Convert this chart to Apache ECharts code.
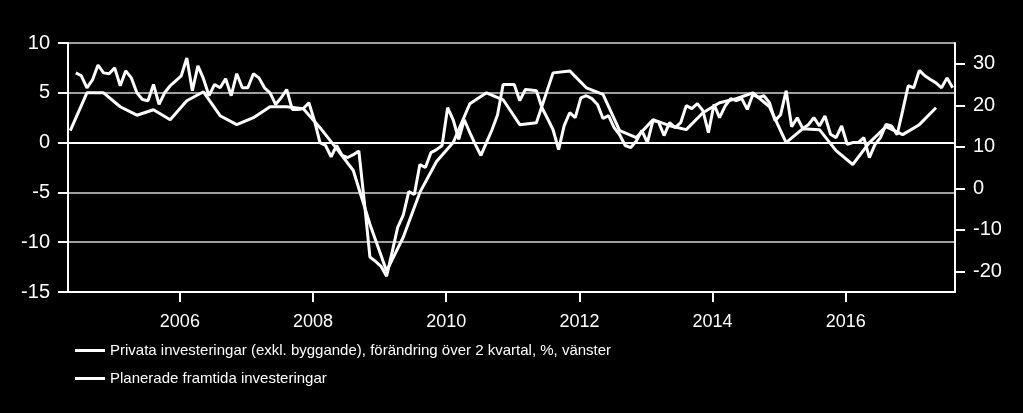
<!DOCTYPE html>
<html><head><meta charset="utf-8">
<script src="https://cdn.jsdelivr.net/npm/echarts@6/dist/echarts.min.js"></script>
<style>html,body{margin:0;padding:0;background:#000;}#c{width:1023px;height:413px;}</style>
</head><body><div id="c"></div>
<script>
const seriesNames = [
  'Privata investeringar (exkl. byggande), förändring över 2 kvartal, %, vänster',
  'Planerade framtida investeringar'
];
// quarterly, plotted at middle month of each quarter, first = May 2004 (left axis)
const privataStart = '2004-05';
const privataValues = [1.2, 5.0, 5.0, 3.6, 2.75, 3.3, 2.3, 4.2, 5.1, 2.7, 1.8, 2.5, 3.6, 3.6, 3.4, 1.5,
  -0.6, -2.8, -8.2, -12.9, -9.5, -5.0, -1.9, 0.0, 3.9, 5.0, 4.3, 1.8, 2.0, 7.0, 7.2, 5.5, 4.85,
  1.2, 0.5, 2.3, 1.7, 1.3, 3.0, 4.0, 4.4, 5.0, 3.6, 0.0, 1.4, 1.3, -0.8, -2.2, 0.0, 1.6, 0.8, 1.8, 3.5];
// monthly, first = June 2004 (right axis)
const planeradeStart = '2004-06';
const planerade2004 = [27.8, 27.1, 24.2, 26.1, 29.7, 27.8, 27.6];
const planerade2005 = [29.0, 24.7, 28.3, 26.6, 23.0, 21.4, 21.1, 25.0, 20.2, 23.0, 24.7, 25.9];
const planerade2006 = [27.1, 31.4, 23.5, 29.5, 26.4, 22.3, 25.0, 24.2, 26.4, 22.3, 27.6, 24.2];
const planerade2007 = [24.2, 27.6, 26.6, 24.2, 23.0, 20.2, 21.8, 23.8, 19.0, 19.0, 19.2, 20.6];
const planerade2008 = [16.3, 11.0, 10.3, 7.6, 10.3, 7.9, 7.4, 8.1, 9.0, -3.4, -16.6, -17.6];
const planerade2009 = [-18.8, -21.2, -15.4, -9.4, -6.5, -0.8, -1.5, 5.7, 5.0, 8.6, 9.3, 10.3];
const planerade2010 = [19.4, 16.5, 11.8, 16.5, 13.4, 10.5, 7.9, 11.0, 14.1, 17.7, 25.0, 25.0];
const planerade2011 = [25.0, 21.1, 23.8, 23.7, 23.5, 19.4, 16.8, 14.1, 9.3, 15.1, 18.2, 17.0];
const planerade2012 = [21.8, 22.3, 21.6, 20.2, 16.8, 17.5, 14.6, 12.9, 10.3, 9.8, 11.4, 13.9];
const planerade2013 = [11.0, 16.3, 16.0, 12.7, 15.8, 14.6, 15.8, 19.9, 19.2, 20.4, 18.7, 13.4];
const planerade2014 = [20.2, 17.0, 19.8, 21.6, 21.1, 21.6, 19.0, 22.6, 21.9, 22.3, 20.6, 16.3];
const planerade2015 = [17.7, 23.5, 14.8, 17.0, 14.4, 15.3, 17.0, 15.0, 17.4, 13.0, 12.2, 15.0];
const planerade2016 = [10.6, 11.0, 11.0, 12.2, 7.4, 10.5, 12.2, 15.4, 15.0, 12.9, 18.7, 24.7];
const planerade2017 = [24.2, 28.4, 27.1, 26.2, 25.4, 24.2, 26.6, 24.2];
const planeradeValues = [].concat(planerade2004, planerade2005, planerade2006, planerade2007,
  planerade2008, planerade2009, planerade2010, planerade2011, planerade2012, planerade2013,
  planerade2014, planerade2015, planerade2016, planerade2017);

const xTickYears = [2006, 2008, 2010, 2012, 2014, 2016];
const rightTicks = [-20, -10, 0, 10, 20, 30];

function monthToX(y, m) { return y + (m - 0.75) / 12; }
function buildSeries(start, step, values) {
  let [y, m] = start.split('-').map(Number);
  return values.map(v => {
    const p = [monthToX(y, m), v];
    m += step; while (m > 12) { m -= 12; y++; }
    return p;
  });
}

const FONT = "'Liberation Sans', Arial, sans-serif";
const chart = echarts.init(document.getElementById('c'), null, {renderer: 'canvas'});
chart.setOption({
  backgroundColor: '#000',
  animation: false,
  grid: {left: 68, right: 68, top: 43, bottom: 121, containLabel: false},
  legend: {
    orient: 'vertical', left: 70, top: 338, itemWidth: 30, itemHeight: 3, itemGap: 13,
    icon: 'rect', data: seriesNames,
    textStyle: {color: '#fff', fontSize: 15, fontFamily: FONT}
  },
  xAxis: {
    type: 'value', min: 2004.32, max: 2017.64,
    axisLine: {show: true, onZero: false, lineStyle: {color: '#fff', width: 2}},
    axisTick: {show: true, customValues: xTickYears, length: 10, lineStyle: {color: '#fff', width: 2}},
    axisLabel: {customValues: xTickYears, color: '#fff', fontSize: 18, fontFamily: FONT, margin: 21,
      formatter: v => String(Math.round(v))},
    splitLine: {show: false}
  },
  yAxis: [{
    type: 'value', position: 'left', min: -15, max: 10, interval: 5,
    axisLine: {show: true, onZero: false, lineStyle: {color: '#fff', width: 2}},
    axisTick: {show: true, length: 10, lineStyle: {color: '#fff', width: 2}},
    axisLabel: {color: '#fff', fontSize: 20, fontFamily: FONT, margin: 18},
    splitLine: {show: true, lineStyle: {color: '#a0a0a0', width: 2}}
  }, {
    type: 'value', position: 'right', min: -25, max: 35, alignTicks: false,
    axisLine: {show: true, onZero: false, lineStyle: {color: '#fff', width: 2}},
    axisTick: {show: true, customValues: rightTicks, length: 10, lineStyle: {color: '#fff', width: 2}},
    axisLabel: {customValues: rightTicks, color: '#fff', fontSize: 20, fontFamily: FONT, margin: 18},
    splitLine: {show: false}
  }],
  series: [{
    name: seriesNames[0], type: 'line', yAxisIndex: 0, showSymbol: false,
    data: buildSeries(privataStart, 3, privataValues),
    lineStyle: {color: '#fff', width: 3}, itemStyle: {color: '#fff'},
    markLine: {silent: true, symbol: 'none', label: {show: false},
      lineStyle: {color: '#fff', width: 2, type: 'solid'}, data: [{yAxis: 0}]}
  }, {
    name: seriesNames[1], type: 'line', yAxisIndex: 1, showSymbol: false,
    data: buildSeries(planeradeStart, 1, planeradeValues),
    lineStyle: {color: '#fff', width: 3}, itemStyle: {color: '#fff'}
  }]
});
</script></body></html>
